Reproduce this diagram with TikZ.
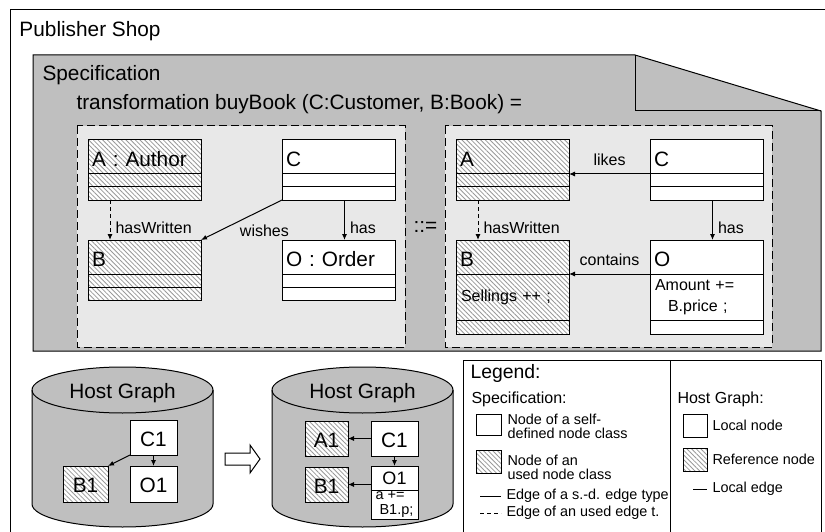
\documentclass[tikz,border=0pt]{standalone}
\usepackage{fontspec}
\setmainfont{Liberation Sans}
\usetikzlibrary{positioning,arrows.meta,patterns.meta}

\definecolor{specgray}{gray}{0.75}
\definecolor{rulegray}{gray}{0.91}
\definecolor{hatchgray}{gray}{0.6}
\newcommand\bigsz{\fontsize{20.8}{25}\selectfont}
\newcommand\midsz{\fontsize{16}{21}\selectfont}
\newcommand\legsz{\fontsize{14.4}{14}\selectfont}

\begin{document}
\begin{tikzpicture}[x=1pt, y=-1pt, line width=1pt,
    txt/.style={anchor=base west, inner sep=0pt, font=\bigsz},
    cls/.style={draw, outer sep=0pt, anchor=north west, minimum height=34pt,
        text width=105pt, inner xsep=4pt, inner ysep=0pt, align=left,
        font=\bigsz, text height=19pt, text depth=0pt},
    comp/.style={draw, outer sep=0pt, minimum width=113pt, minimum height=13pt, inner sep=0pt},
    compt/.style={comp, minimum height=46pt, text width=103pt, inner xsep=5pt,
        align=left, font=\midsz},
    self/.style={fill=white},
    used/.style={preaction={fill=white}, pattern={Lines[angle=-45,distance=3.3pt,line width=0.8pt]},
        pattern color=hatchgray},
    rulebox/.style={draw, dash pattern=on 8pt off 4pt, fill=rulegray},
    selfedge/.style={-{Latex[length=6pt,width=5pt]}},
    usededge/.style={selfedge, dash pattern=on 4pt off 3pt},
    elabel/.style={font=\midsz, inner sep=2pt},
    hnode/.style={draw, outer sep=0pt, inner sep=0pt, anchor=north west, font=\bigsz,
        text height=17pt, text depth=0pt},
    legbox/.style={draw, outer sep=0pt, inner sep=0pt, anchor=north west},
    legtext/.style={font=\legsz, inner sep=0pt, align=left}]

    \useasboundingbox (0,0) rectangle (825,532);
    \clip (0,0) rectangle (825,532);
    \draw (10,10) rectangle (840,550);
    \node[txt] (shop) at (19,37) {Publisher Shop};

    \draw[fill=specgray] (33,55) -- (635,55) -- (821,111) -- (821,351) -- (33,351) -- cycle;
    \draw (635,55) -- (635,111) -- (821,111);
    \node[txt] (spec) at (42,81) {Specification};
    \node[txt] (trafo) at (76,110) {transformation buyBook (C:Customer, B:Book) =};

    \draw[rulebox] (77,126) rectangle (405,347);
    \draw[rulebox] (445,126) rectangle (772,347);
    \node[txt] (ruleop) at (413,233) {::=};

    % left-hand side
    \node[cls, used] (lA) at (88,140) {A : Author};
    \node[comp, used, below=0pt of lA] (lA1) {};
    \node[comp, used, below=0pt of lA1] (lA2) {};
    \node[cls, self] (lC) at (282,140) {C};
    \node[comp, self, below=0pt of lC] (lC1) {};
    \node[comp, self, below=0pt of lC1] (lC2) {};
    \node[cls, used] (lB) at (88,240) {B};
    \node[comp, used, below=0pt of lB] (lB1) {};
    \node[comp, used, below=0pt of lB1] (lB2) {};
    \node[cls, self] (lO) at (282,240) {O : Order};
    \node[comp, self, below=0pt of lO] (lO1) {};
    \node[comp, self, below=0pt of lO1] (lO2) {};

    \draw[usededge] ([xshift=22pt]lA2.south west) -- ([xshift=22pt]lB.north west)
        node[elabel, pos=0.7, right=3pt] {hasWritten};
    \draw[selfedge] (lC2.south west) -- (lB.north east)
        node[elabel, pos=0.55, below right] {wishes};
    \draw[selfedge] ([xshift=6pt]lC2.south) -- ([xshift=6pt]lO.north)
        node[elabel, pos=0.7, right=3pt] {has};

    % right-hand side
    \node[cls, used] (rA) at (456,140) {A};
    \node[comp, used, below=0pt of rA] (rA1) {};
    \node[comp, used, below=0pt of rA1] (rA2) {};
    \node[cls, self] (rC) at (650,140) {C};
    \node[comp, self, below=0pt of rC] (rC1) {};
    \node[comp, self, below=0pt of rC1] (rC2) {};
    \node[cls, used] (rB) at (456,240) {B};
    \node[compt, used, below=0pt of rB] (rB1) {Sellings ++ ;};
    \node[comp, used, minimum height=14pt, below=0pt of rB1] (rB2) {};
    \node[cls, self] (rO) at (650,240) {O};
    \node[compt, self, below=0pt of rO] (rO1) {Amount +=\\\hspace*{13pt}B.price ;};
    \node[comp, self, minimum height=14pt, below=0pt of rO1] (rO2) {};

    \draw[selfedge] (rC.south west) -- (rA.south east)
        node[elabel, midway, above=6pt] {likes};
    \draw[usededge] ([xshift=22pt]rA2.south west) -- ([xshift=22pt]rB.north west)
        node[elabel, pos=0.7, right=3pt] {hasWritten};
    \draw[selfedge] ([xshift=6pt]rC2.south) -- ([xshift=6pt]rO.north)
        node[elabel, pos=0.7, right=3pt] {has};
    \draw[selfedge] (rO.south west) -- (rB.south east)
        node[elabel, midway, above=6pt] {contains};

    % host graphs
    \foreach \cx/\nm in {122.5/hostL, 362.5/hostR} {
        \draw[fill=specgray] (\cx-90.5,390) -- (\cx-90.5,504)
            arc[start angle=180, end angle=360, x radius=90.5pt, y radius=23pt]
            -- (\cx+90.5,390)
            arc[start angle=0, end angle=180, x radius=90.5pt, y radius=23pt] -- cycle;
        \draw (\cx-90.5,390) arc[start angle=180, end angle=360, x radius=90.5pt, y radius=23pt];
        \node[font=\bigsz, anchor=base, inner sep=0pt] (\nm) at (\cx,398) {Host Graph};
    }

    \node[hnode, self, minimum width=47pt, minimum height=35pt] (hlC) at (130,420) {C1};
    \node[hnode, used, minimum width=45pt, minimum height=36pt] (hlB) at (63,466) {B1};
    \node[hnode, self, minimum width=47pt, minimum height=36pt] (hlO) at (130,466) {O1};
    \draw[selfedge] (hlC.south west) -- (hlB.north east);
    \draw[selfedge] (hlC.south) -- (hlO.north);

    \draw[fill=white] (225,453) -- (250,453) -- (250,445) -- (260,459) -- (250,473)
        -- (250,465) -- (225,465) -- cycle;

    \node[hnode, used, minimum width=43pt, minimum height=35pt] (hrA) at (305,421) {A1};
    \node[hnode, self, minimum width=47pt, minimum height=35pt] (hrC) at (371,421) {C1};
    \node[hnode, used, minimum width=43pt, minimum height=35pt] (hrB) at (305,467) {B1};
    \node[hnode, self, minimum width=47pt, minimum height=24pt, font=\fontsize{18}{20}\selectfont,
        text height=13pt] (hrO) at (371,466) {O1};
    \node[draw, self, outer sep=0pt, inner xsep=1pt, inner ysep=0pt, minimum width=47pt,
        minimum height=29pt, align=left, font=\fontsize{14.5}{15.5}\selectfont,
        below=0pt of hrO] (hrO1) {a +=\\\hspace*{4pt}B1.p;};
    \draw[selfedge] (hrC.west) -- (hrA.east);
    \draw[selfedge] (hrC.south) -- (hrO.north);
    \draw[selfedge] (hrO.west |- hrB.east) -- (hrB.east);

    % legend
    \draw (463,360) rectangle (821,550);
    \draw (670,360) -- (670,550);
    \node[txt, font=\fontsize{19.4}{23}\selectfont] (leg) at (470,378) {Legend:};
    \node[txt, font=\midsz] (legspec) at (471,403) {Specification:};
    \node[txt, font=\midsz] (leghost) at (677,403) {Host Graph:};

    \node[legbox, self, minimum width=25pt, minimum height=21pt] (lgSelf) at (476,414) {};
    \node[legtext, anchor=north west] (lgSelfTxt) at ([xshift=6pt]lgSelf.north east)
        {Node of a self-\\defined node class};
    \node[legbox, used, minimum width=25pt, minimum height=23pt] (lgUsed) at (476,450) {};
    \node[legtext, anchor=north west] (lgUsedTxt) at ([xshift=6pt,yshift=-4.5pt]lgUsed.north east)
        {Node of an\\used node class};
    \coordinate (lgS1) at (480,496);
    \coordinate (lgS2) at (501,496);
    \draw (lgS1) -- (lgS2) node[legtext, right=5pt] {Edge of a s.-d. edge type};
    \coordinate (lgU1) at (480,513);
    \coordinate (lgU2) at (501,513);
    \draw[dash pattern=on 4pt off 3pt] (lgU1) -- (lgU2)
        node[legtext, right=5pt] {Edge of an used edge t.};

    \node[legbox, self, minimum width=24pt, minimum height=23pt] (lgLocal) at (683,414) {};
    \node[legtext, right=5pt of lgLocal] (lgLocalTxt) {Local node};
    \node[legbox, used, minimum width=24pt, minimum height=23pt] (lgRef) at (683,448) {};
    \node[legtext, right=5pt of lgRef] (lgRefTxt) {Reference node};
    \coordinate (lgL1) at (693,489);
    \coordinate (lgL2) at (707,489);
    \draw (lgL1) -- (lgL2) node[legtext, right=5pt] {Local edge};
\end{tikzpicture}
\end{document}
